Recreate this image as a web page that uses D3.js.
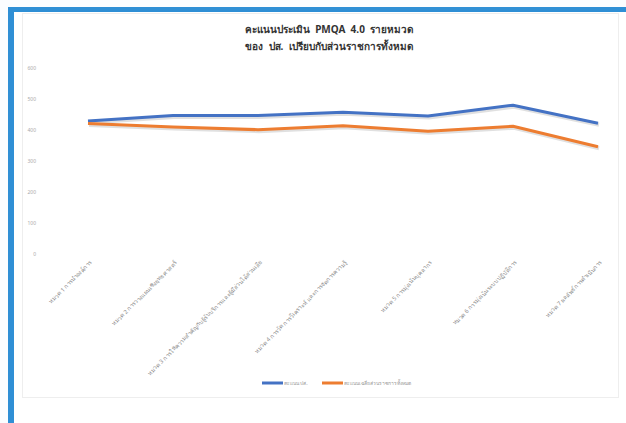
<!DOCTYPE html>
<html><head><meta charset="utf-8">
<script src="https://cdn.jsdelivr.net/npm/d3@7"></script>
<style>html,body{margin:0;padding:0;background:#fff;}svg{display:block;}</style>
</head><body>
<svg id="c" width="626" height="423"></svg>
<script>
const categories = [
  "หมวด 1 การนำองค์การ",
  "หมวด 2 การวางแผนเชิงยุทธศาสตร์",
  "หมวด 3 การให้ความสำคัญกับผู้รับบริการและผู้มีส่วนได้ส่วนเสีย",
  "หมวด 4 การวัด การวิเคราะห์ และการจัดการความรู้",
  "หมวด 5 การมุ่งเน้นบุคลากร",
  "หมวด 6 การมุ่งเน้นระบบปฏิบัติการ",
  "หมวด 7 ผลลัพธ์การดำเนินการ"
];
const seriesNames = ["คะแนน ปส.", "คะแนนเฉลี่ยส่วนราชการทั้งหมด"];
const scoreOPS = [429, 447, 447, 457, 445, 480, 422];
const scoreAvg = [421, 410, 401, 414, 396, 412, 346];
const yTicks = [0, 100, 200, 300, 400, 500, 600];
const titleLines = ["คะแนนประเมิน  PMQA  4.0  รายหมวด", "ของ  ปส.  เปรียบกับส่วนราชการทั้งหมด"];
const colors = ["#4472C4", "#ED7D31"];

const svg = d3.select("#c");
// frame
svg.append("rect").attr("x",0).attr("y",0).attr("width",626).attr("height",423).attr("fill","#fbfdff");
svg.append("rect").attr("x",8).attr("y",8).attr("width",618).attr("height",415).attr("fill","#ffffff");
svg.append("rect").attr("x",8).attr("y",7).attr("width",618).attr("height",5).attr("fill","#2f8fd5");
svg.append("rect").attr("x",8).attr("y",7).attr("width",6).attr("height",416).attr("fill","#2f8fd5");
// panel
svg.append("rect").attr("x",22.5).attr("y",13.5).attr("width",596).attr("height",384)
  .attr("fill","#fff").attr("stroke","#eeeeee").attr("stroke-width",1);

const x = d3.scalePoint().domain(categories).range([88, 598]);
const y = d3.scaleLinear().domain([0, 600]).range([254, 68]);

// title
svg.append("g").selectAll("text").data(titleLines).join("text")
  .attr("x", 329).attr("y", (d,i)=> 33 + i*17)
  .attr("xml:space","preserve").style("white-space","pre")
  .attr("text-anchor","middle").attr("font-family","'Noto Sans', 'DejaVu Sans', sans-serif")
  .attr("font-weight","bold").attr("font-size", 10).attr("fill","#333").text(d=>d);

// y axis labels
const yAxis = d3.axisLeft(y).tickValues(yTicks).tickSize(0).tickPadding(0);
const ga = svg.append("g").attr("transform","translate(36,0)").call(yAxis);
ga.select(".domain").remove();
ga.selectAll("text").attr("font-size",5).attr("fill","#aaa")
  .attr("font-family","'Noto Sans', sans-serif");

// x axis labels
const xAxis = d3.axisBottom(x).tickSize(0).tickPadding(0);
const gx = svg.append("g").attr("transform","translate(0,263)").call(xAxis);
gx.select(".domain").remove();
gx.selectAll("text").attr("font-size",5.8).attr("fill","#8a8a8a")
  .attr("font-family","'Noto Sans', sans-serif")
  .attr("text-anchor","end").attr("dy",0).attr("dx",0)
  .attr("transform","translate(4,0) rotate(-45)");

// lines
const line = d3.line().x((d,i)=>x(categories[i])).y(d=>y(d));
[scoreOPS, scoreAvg].forEach((s,k)=>{
  svg.append("path").datum(s).attr("d",line).attr("fill","none")
    .attr("stroke","#000").attr("stroke-opacity",0.12).attr("stroke-width",4)
    .attr("transform","translate(1,1.5)").attr("stroke-linejoin","round");
  svg.append("path").datum(s).attr("d",line).attr("fill","none")
    .attr("stroke",colors[k]).attr("stroke-width",3).attr("stroke-linejoin","round");
});

// legend
const leg = [{x:262, w:21}, {x:322, w:21}];
seriesNames.forEach((n,i)=>{
  svg.append("line").attr("x1",leg[i].x).attr("x2",leg[i].x+leg[i].w).attr("y1",383).attr("y2",383)
    .attr("stroke",colors[i]).attr("stroke-width",3);
  svg.append("text").attr("x",leg[i].x+leg[i].w+1).attr("y",385).attr("font-size",5)
    .attr("fill","#999").attr("font-family","'Noto Sans', sans-serif").text(n);
});
</script>
</body></html>
